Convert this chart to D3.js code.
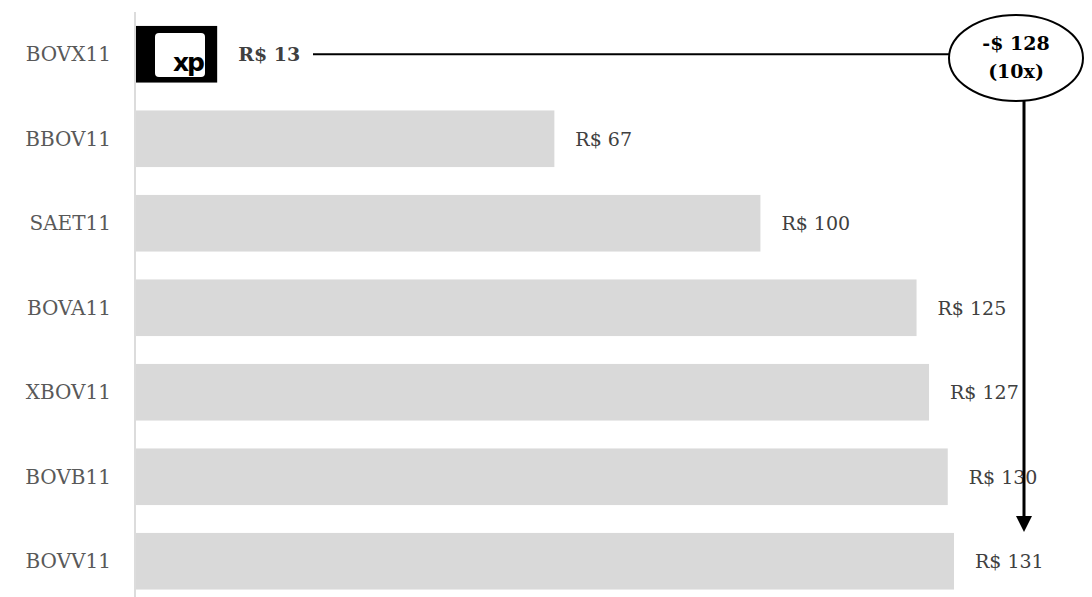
<!DOCTYPE html>
<html>
<head>
<meta charset="utf-8">
<script src="https://cdn.jsdelivr.net/npm/d3@7"></script>
<style>
  body { margin: 0; background: #fff; }
  text { font-family: "Roboto Slab", "DejaVu Serif", serif; }
</style>
</head>
<body>
<div id="canvas"></div>
<script>
"use strict";

// Data
let tickers = ["BOVX11", "BBOV11", "SAET11", "BOVA11", "XBOV11", "BOVB11", "BOVV11"];
let prices = [13, 67, 100, 125, 127, 130, 131];
let priceLabels = ["R$ 13", "R$ 67", "R$ 100", "R$ 125", "R$ 127", "R$ 130", "R$ 131"];
let calloutLines = ["-$ 128", "(10x)"];

let svgWidth = 1092;
let svgHeight = 597;

let svg = d3.select("#canvas")
    .append("svg")
    .attr("width", svgWidth)
    .attr("height", svgHeight);

// Scales
let xScale = d3.scaleLinear()
    .domain([0, 131])
    .range([136, 954]);

let yScale = d3.scaleBand()
    .domain(tickers)
    .range([12, 603.5])
    .paddingInner(0.33)
    .paddingOuter(0.165);

// Axis line
svg.append("line")
    .attr("x1", 135).attr("x2", 135)
    .attr("y1", 12).attr("y2", svgHeight)
    .attr("stroke", "#dcdcdc")
    .attr("stroke-width", 2);

// Bars
svg.selectAll("rect.bar")
    .data(tickers)
    .join("rect")
    .attr("class", "bar")
    .attr("x", xScale(0))
    .attr("y", d => yScale(d))
    .attr("width", (d, i) => xScale(prices[i]) - xScale(0))
    .attr("height", yScale.bandwidth())
    .attr("fill", (d, i) => i === 0 ? "#000" : "#d9d9d9");

// Category labels
svg.selectAll("text.cat")
    .data(tickers)
    .join("text")
    .attr("class", "cat")
    .attr("x", 111)
    .attr("y", d => yScale(d) + yScale.bandwidth() / 2 + 7)
    .attr("text-anchor", "end")
    .attr("font-size", 20)
    .attr("fill", "#595959")
    .text(d => d);

// Value labels
svg.selectAll("text.val")
    .data(tickers)
    .join("text")
    .attr("class", "val")
    .attr("x", (d, i) => xScale(prices[i]) + 21)
    .attr("y", d => yScale(d) + yScale.bandwidth() / 2 + 7)
    .attr("font-size", 19)
    .attr("font-weight", (d, i) => i === 0 ? "bold" : "normal")
    .attr("fill", "#404040")
    .text((d, i) => priceLabels[i]);

// XP logo inside the first bar
let logoY = yScale(tickers[0]);
svg.append("rect")
    .attr("x", 155)
    .attr("y", logoY + 7)
    .attr("width", 50)
    .attr("height", 44)
    .attr("rx", 4)
    .attr("fill", "#fff");

svg.append("text")
    .attr("x", 203)
    .attr("y", logoY + 45)
    .attr("text-anchor", "end")
    .style("font-family", "'DejaVu Sans', sans-serif")
    .style("font-weight", "bold")
    .style("font-size", "25px")
    .attr("letter-spacing", -2)
    .attr("fill", "#000")
    .text("xp");

// Callout
let cy = yScale(tickers[0]) + yScale.bandwidth() / 2;
let ellX = 1016, ellY = 58, rx = 67, ry = 43;

svg.append("line")
    .attr("x1", 313).attr("x2", ellX - rx)
    .attr("y1", cy).attr("y2", cy)
    .attr("stroke", "#000")
    .attr("stroke-width", 2);

svg.append("ellipse")
    .attr("cx", ellX).attr("cy", ellY)
    .attr("rx", rx).attr("ry", ry)
    .attr("fill", "#fff")
    .attr("stroke", "#000")
    .attr("stroke-width", 2);

calloutLines.forEach((t, i) => {
    svg.append("text")
        .attr("x", ellX)
        .attr("y", 50 + i * 28)
        .attr("text-anchor", "middle")
        .attr("font-size", 19)
        .attr("font-weight", "bold")
        .attr("fill", "#000")
        .text(t);
});

// Arrow down to last bar
let arrowX = 1024;
let arrowTip = yScale(tickers[tickers.length - 1]) - 1;

svg.append("line")
    .attr("x1", arrowX).attr("x2", arrowX)
    .attr("y1", ellY + ry - 1).attr("y2", arrowTip - 14)
    .attr("stroke", "#000")
    .attr("stroke-width", 3);

svg.append("path")
    .attr("d", `M${arrowX - 8},${arrowTip - 16} L${arrowX + 8},${arrowTip - 16} L${arrowX},${arrowTip} Z`)
    .attr("fill", "#000");
</script>
</body>
</html>
